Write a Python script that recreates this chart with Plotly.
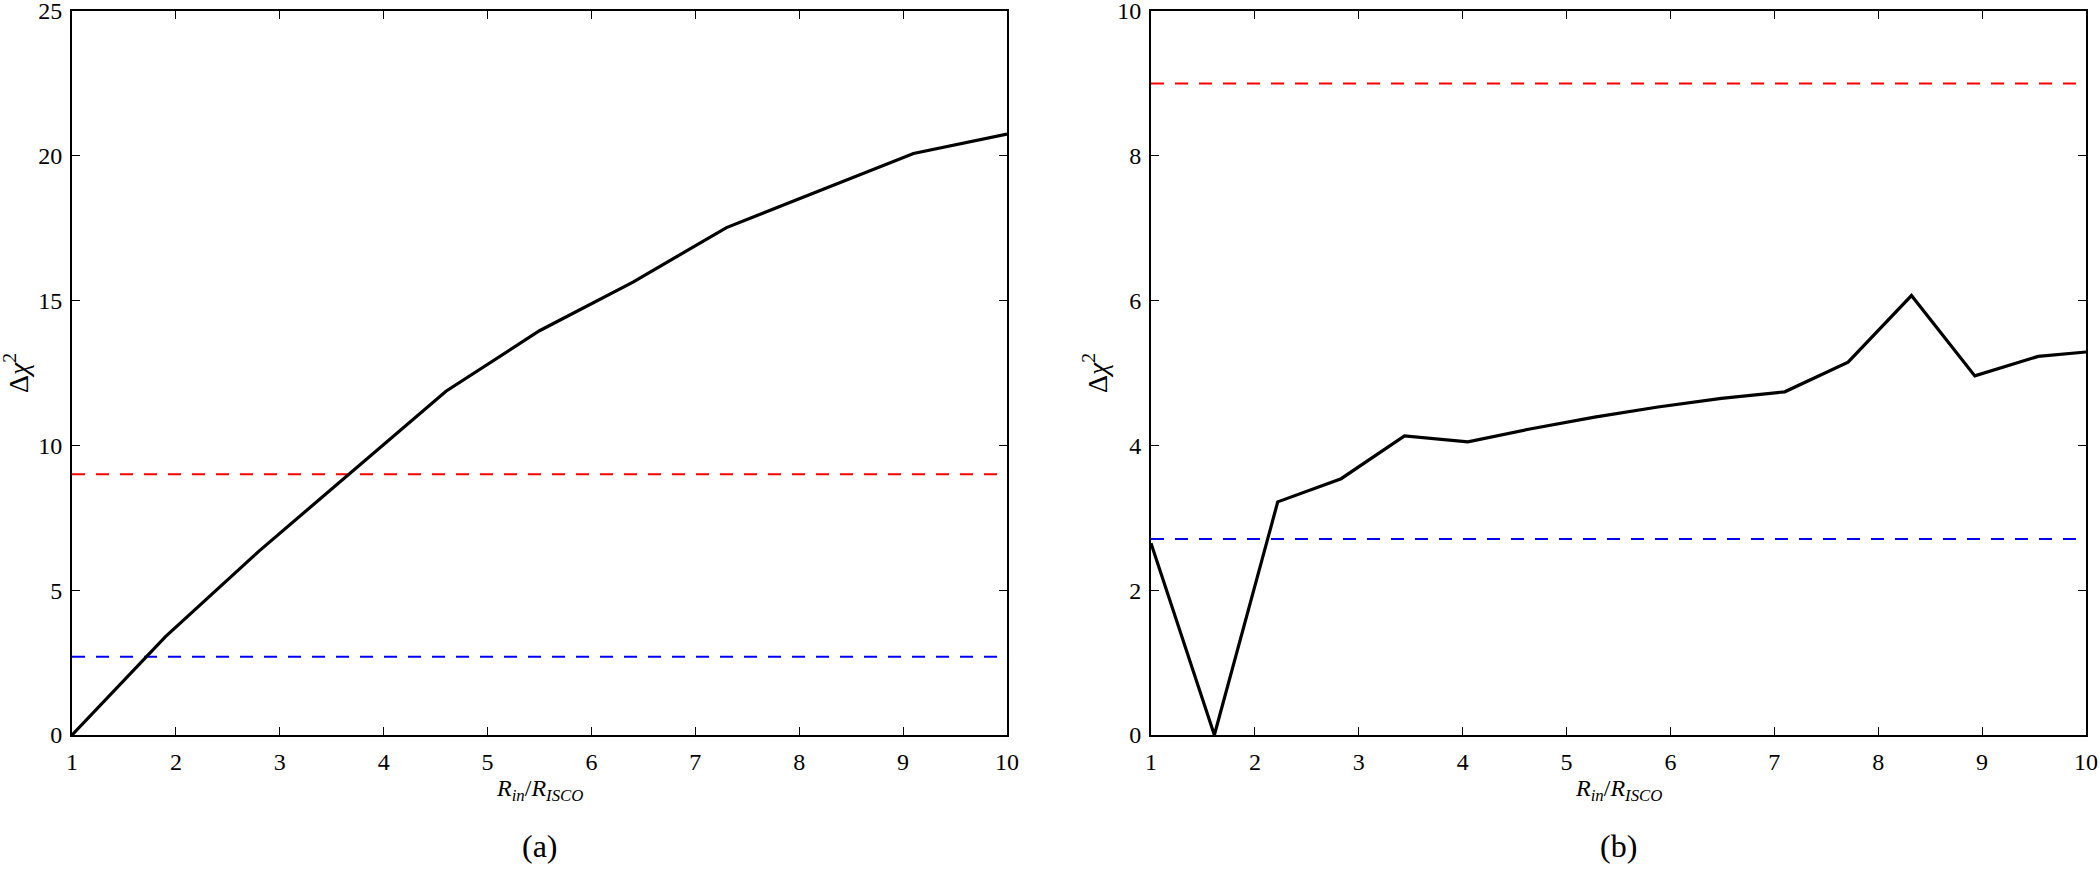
import plotly.graph_objects as go

# ---- data ----
x_a = [1.0, 1.9, 2.8, 3.7, 4.6, 5.5, 6.4, 7.3, 8.2, 9.1, 10.0]
y_a = [0.0, 3.4, 6.35, 9.1, 11.87, 13.96, 15.64, 17.52, 18.8, 20.08, 20.75]

x_b = [1.0, 1.61, 2.22, 2.83, 3.44, 4.05, 4.66, 5.27, 5.88, 6.49, 7.1, 7.71, 8.32, 8.93, 9.54, 10.0]
y_b = [2.65, 0.0, 3.22, 3.54, 4.13, 4.05, 4.23, 4.39, 4.53, 4.65, 4.74, 5.15, 6.07, 4.96, 5.23, 5.29]

x_range = [1, 10]
level_red = 9.0      # 3-sigma
level_blue = 2.706   # 90%

x_ticks = [1, 2, 3, 4, 5, 6, 7, 8, 9, 10]
y_ticks_a = [0, 5, 10, 15, 20, 25]
y_ticks_b = [0, 2, 4, 6, 8, 10]

panel_labels = ["(a)", "(b)"]

W, H = 2100, 874
FONT = "Liberation Serif"

fig = go.Figure()

for xs, ys, xa, ya in [(x_a, y_a, "x", "y"), (x_b, y_b, "x2", "y2")]:
    fig.add_trace(go.Scatter(x=x_range, y=[level_red, level_red], mode="lines", xaxis=xa, yaxis=ya,
                             line=dict(color="#ff0000", width=2, dash="13px,11px"), showlegend=False,
                             hoverinfo="skip"))
    fig.add_trace(go.Scatter(x=x_range, y=[level_blue, level_blue], mode="lines", xaxis=xa, yaxis=ya,
                             line=dict(color="#0000ff", width=2, dash="13px,11px"), showlegend=False,
                             hoverinfo="skip"))
    fig.add_trace(go.Scatter(x=xs, y=ys, mode="lines", xaxis=xa, yaxis=ya,
                             line=dict(color="black", width=3.2), showlegend=False, cliponaxis=True))

# pixel geometry in window coordinates
L1, R1 = 72, 1007
L2, R2 = 1151, 2086
T, B = 11, 735

def px(x):
    return x / W

def py(y):
    return 1 - y / H

axis_common = dict(showline=True, linecolor="black", linewidth=2, mirror="ticks",
                   ticks="inside", ticklen=8, tickwidth=1, tickcolor="black",
                   showgrid=False, zeroline=False, ticklabeloverflow="allow",
                   automargin=False,
                   tickfont=dict(family=FONT, size=24, color="black"))

fig.update_layout(
    template="none",
    width=W, height=H,
    margin=dict(l=0, r=0, t=0, b=0, pad=0),
    paper_bgcolor="white", plot_bgcolor="white",
    font=dict(family=FONT, size=24, color="black"),
    xaxis=dict(domain=[px(L1), px(R1)], range=x_range, tickvals=x_ticks, anchor="y",
               ticklabelstandoff=4, **axis_common),
    yaxis=dict(domain=[py(B), py(T)], range=[0, 25], tickvals=y_ticks_a, anchor="x",
               ticklabelstandoff=3, **axis_common),
    xaxis2=dict(domain=[px(L2), px(R2)], range=x_range, tickvals=x_ticks, anchor="y2",
                ticklabelstandoff=4, **axis_common),
    yaxis2=dict(domain=[py(B), py(T)], range=[0, 10], tickvals=y_ticks_b, anchor="x2",
                ticklabelstandoff=3, **axis_common),
)

xtitle = "<i>R</i><sub><i>in</i></sub>/<i>R</i><sub><i>ISCO</i></sub>"
ytitle = "Δ<i>χ</i><sup>2</sup>"

annos = []
for (l, r, ytx, lab) in [(L1, R1, 16, panel_labels[0]), (L2, R2, 1095, panel_labels[1])]:
    cx = (l + r) / 2
    annos.append(dict(x=px(cx), y=py(790), xref="paper", yref="paper", text=xtitle, showarrow=False,
                      xanchor="center", yanchor="middle", font=dict(family=FONT, size=24, color="black")))
    annos.append(dict(x=px(cx), y=py(846), xref="paper", yref="paper", text=lab, showarrow=False,
                      xanchor="center", yanchor="middle", font=dict(family=FONT, size=32, color="black")))
    annos.append(dict(x=px(ytx), y=py(373), xref="paper", yref="paper", text=ytitle, showarrow=False,
                      textangle=-90, xanchor="center", yanchor="middle",
                      font=dict(family=FONT, size=28, color="black")))
fig.update_layout(annotations=annos)

# remove the browser's default 8px body margin so the figure fills the window exactly
fig.write_html("out.html", config={"displayModeBar": False},
               post_script="document.body.style.margin='0';document.body.style.overflow='hidden';")
